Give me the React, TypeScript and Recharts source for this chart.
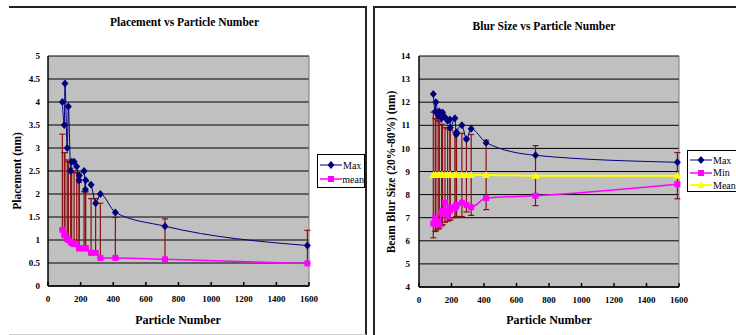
import React from "react";
import {
  LineChart,
  Line,
  XAxis,
  YAxis,
  CartesianGrid,
  ErrorBar,
  Legend,
  ReferenceLine,
} from "recharts";

// particle counts shared by both experiments
const particles = [88, 100, 104, 118, 125, 139, 145, 160, 176, 190, 192, 221, 229, 231, 264, 292, 321, 413, 717, 1590];

// placement (nm)
const placementMax = [4.0, 3.5, 4.4, 3.0, 3.9, 2.5, 2.7, 2.7, 2.6, 2.3, 2.4, 2.5, 2.1, 2.3, 2.2, 1.8, 2.0, 1.6, 1.3, 0.88];
const placementMean = [1.22, 1.12, 1.1, 1.02, 1.0, 0.96, 0.93, 0.91, 0.91, 0.82, 0.82, 0.82, 0.82, 0.82, 0.72, 0.72, 0.61, 0.61, 0.58, 0.49];
const placementTop = [3.3, 2.9, 2.9, 2.74, 2.7, 2.56, 2.5, 2.46, 2.46, 2.25, 2.3, 2.05, 2.05, 2.05, 1.9, 1.9, 1.8, 1.49, 1.46, 1.21];

// beam blur size 20%-80% (nm)
const blurMax = [12.35, 11.6, 12.0, 11.4, 11.6, 11.3, 11.55, 11.35, 11.2, 11.25, 10.9, 11.3, 10.6, 10.7, 11.0, 10.4, 10.85, 10.25, 9.7, 9.4];
const blurMin = [6.75, 7.0, 6.7, 6.85, 6.7, 7.2, 7.3, 7.65, 7.05, 7.3, 7.45, 7.4, 7.55, 7.5, 7.65, 7.55, 7.45, 7.85, 7.95, 8.45];
const blurMean = [8.85, 8.85, 8.85, 8.85, 8.85, 8.85, 8.85, 8.85, 8.85, 8.85, 8.85, 8.85, 8.85, 8.85, 8.85, 8.85, 8.85, 8.85, 8.82, 8.82];
const blurSpread = [2.72, 2.45, 2.42, 2.35, 2.3, 2.2, 2.15, 2.05, 2.0, 1.95, 1.95, 1.85, 1.8, 1.8, 1.8, 1.6, 1.75, 1.5, 1.3, 1.0];

const xTicks = [0, 200, 400, 600, 800, 1000, 1200, 1400, 1600];
const placementTicks = [0, 0.5, 1, 1.5, 2, 2.5, 3, 3.5, 4, 4.5, 5];
const blurTicks = [4, 5, 6, 7, 8, 9, 10, 11, 12, 13, 14];

const NAVY = "#000080";
const MAGENTA = "#ff00ff";
const YELLOW = "#ffff00";
const BAR = "#8b1010";

const placementData = particles.map((n, i) => ({
  n,
  max: placementMax[i],
  mean: placementMean[i],
  err: [0, placementTop[i] - placementMean[i]],
}));

const blurData = particles.map((n, i) => ({
  n,
  max: blurMax[i],
  min: blurMin[i],
  mean: blurMean[i],
  err: blurSpread[i],
}));

type Shape = "diamond" | "square" | "triangle";

function marker(shape: Shape, cx: number, cy: number, color: string, key?: string) {
  if (shape === "diamond")
    return <path key={key} d={`M${cx},${cy - 4}L${cx + 3.5},${cy}L${cx},${cy + 4}L${cx - 3.5},${cy}Z`} fill={color} />;
  if (shape === "square")
    return <rect key={key} x={cx - 3} y={cy - 3} width={6} height={6} fill={color} />;
  return <path key={key} d={`M${cx},${cy - 4}L${cx + 4},${cy + 3}L${cx - 4},${cy + 3}Z`} fill={color} />;
}

const dotOf = (shape: Shape, color: string) => (p: any) => {
  if (p.cx == null || p.cy == null) return <g key={`e${p.index}`} />;
  return marker(shape, p.cx, p.cy, color, `${shape}${p.index}`);
};

type Entry = { name: string; color: string; shape: Shape; width: number };

const legendBox = (entries: Entry[], rowH: number, w: number, h: number) => () => (
  <div
    style={{
      width: w,
      height: h,
      boxSizing: "border-box",
      border: "1px solid #000",
      background: "#fff",
      paddingTop: 3,
    }}
  >
    {entries.map((e) => (
      <div key={e.name} style={{ display: "flex", alignItems: "center", height: rowH, fontSize: 10 }}>
        <svg width={25} height={10}>
          <line x1={2} y1={5} x2={24} y2={5} stroke={e.color} strokeWidth={e.width} />
          {marker(e.shape, 13, 5, e.color)}
        </svg>
        <span>{e.name}</span>
      </div>
    ))}
  </div>
);

const xTitle = (x: number) => () => (
  <text x={x} y={324} textAnchor="middle" fontSize={12} fontWeight={700} fill="#000">
    Particle Number
  </text>
);

const yTitle = (text: string, x: number, y: number) => () => (
  <text x={x} y={y} transform={`rotate(-90 ${x} ${y})`} textAnchor="middle" dominantBaseline="central" fontSize={11.5} fontWeight={700} fill="#000">
    {text}
  </text>
);

const tickStyle = { fontSize: 9, fontWeight: 700, fill: "#000" };

export default function App() {
  return (
    <div
      style={{
        position: "absolute",
        left: 0,
        top: 0,
        width: 736,
        height: 335,
        overflow: "hidden",
        background: "#fff",
        fontFamily: "'Liberation Serif', 'Times New Roman', serif",
      }}
    >
      <div style={{ position: "absolute", left: 9, top: 6, width: 358, height: 329, boxSizing: "border-box", borderTop: "2px solid #222", borderRight: "2px solid #222", borderBottom: "1px solid #ccc" }} />
      <div style={{ position: "absolute", left: 373, top: 6, width: 400, height: 340, boxSizing: "border-box", borderTop: "2px solid #222", borderLeft: "2px solid #222" }} />

      <div style={{ position: "absolute", left: 0, top: 16, width: 369, textAlign: "center", fontSize: 11.5, fontWeight: 700 }}>
        Placement vs Particle Number
      </div>
      <div style={{ position: "absolute", left: 368, top: 20, width: 352, textAlign: "center", fontSize: 11.5, fontWeight: 700 }}>
        Blur Size vs Particle Number
      </div>

      <div style={{ position: "absolute", left: 0, top: 0 }}>
        <LineChart width={368} height={335} data={placementData} margin={{ top: 56, right: 59, bottom: 19, left: 0 }}>
          <CartesianGrid vertical={false} stroke="#000" fill="#c0c0c0" fillOpacity={1} />
          <XAxis type="number" dataKey="n" domain={[0, 1600]} ticks={xTicks} tick={tickStyle} tickSize={-4} tickMargin={14} stroke="#000" strokeWidth={1.5} label={xTitle(178)} />
          <YAxis width={48} domain={[0, 5]} ticks={placementTicks} tick={tickStyle} tickLine={false} tickSize={0} tickMargin={8} stroke="#000" strokeWidth={1.5} label={yTitle("Placement (nm)", 17, 171)} />
          <ReferenceLine x={1600} stroke="#7a7a7a" />
          <Line type="monotone" dataKey="mean" stroke={MAGENTA} strokeWidth={1.5} dot={dotOf("square", MAGENTA)} isAnimationActive={false}>
            <ErrorBar dataKey="err" direction="y" width={3} stroke={BAR} strokeWidth={1.2} />
          </Line>
          <Line type="monotone" dataKey="max" stroke={NAVY} strokeWidth={1} dot={dotOf("diamond", NAVY)} isAnimationActive={false} />
          <Legend
            layout="vertical"
            align="center"
            verticalAlign="middle"
            wrapperStyle={{ left: 317, top: 154 }}
            content={legendBox(
              [
                { name: "Max", color: NAVY, shape: "diamond", width: 1 },
                { name: "mean", color: MAGENTA, shape: "square", width: 1.5 },
              ],
              14,
              48,
              34
            )}
          />
        </LineChart>
      </div>

      <div style={{ position: "absolute", left: 368, top: 0 }}>
        <LineChart width={368} height={335} data={blurData} margin={{ top: 56, right: 57, bottom: 18, left: 0 }}>
          <CartesianGrid vertical={false} stroke="#000" fill="#c0c0c0" fillOpacity={1} />
          <XAxis type="number" dataKey="n" domain={[0, 1600]} ticks={xTicks} tick={tickStyle} tickSize={-4} tickMargin={14} stroke="#000" strokeWidth={1.5} label={xTitle(181)} />
          <YAxis width={51} domain={[4, 14]} ticks={blurTicks} tick={tickStyle} tickLine={false} tickSize={0} tickMargin={9} stroke="#000" strokeWidth={1.5} label={yTitle("Beam Blur Size (20%-80%) (nm)", 23, 172)} />
          <ReferenceLine x={1600} stroke="#7a7a7a" />
          <Line type="monotone" dataKey="mean" stroke={YELLOW} strokeWidth={2} dot={dotOf("triangle", YELLOW)} isAnimationActive={false}>
            <ErrorBar dataKey="err" direction="y" width={3} stroke={BAR} strokeWidth={1.2} />
          </Line>
          <Line type="monotone" dataKey="min" stroke={MAGENTA} strokeWidth={1.5} dot={dotOf("square", MAGENTA)} isAnimationActive={false} />
          <Line type="monotone" dataKey="max" stroke={NAVY} strokeWidth={1} dot={dotOf("diamond", NAVY)} isAnimationActive={false} />
          <Legend
            layout="vertical"
            align="center"
            verticalAlign="middle"
            wrapperStyle={{ left: 319, top: 150 }}
            content={legendBox(
              [
                { name: "Max", color: NAVY, shape: "diamond", width: 1 },
                { name: "Min", color: MAGENTA, shape: "square", width: 1.5 },
                { name: "Mean", color: YELLOW, shape: "triangle", width: 2 },
              ],
              12.5,
              54,
              42
            )}
          />
        </LineChart>
      </div>
    </div>
  );
}
